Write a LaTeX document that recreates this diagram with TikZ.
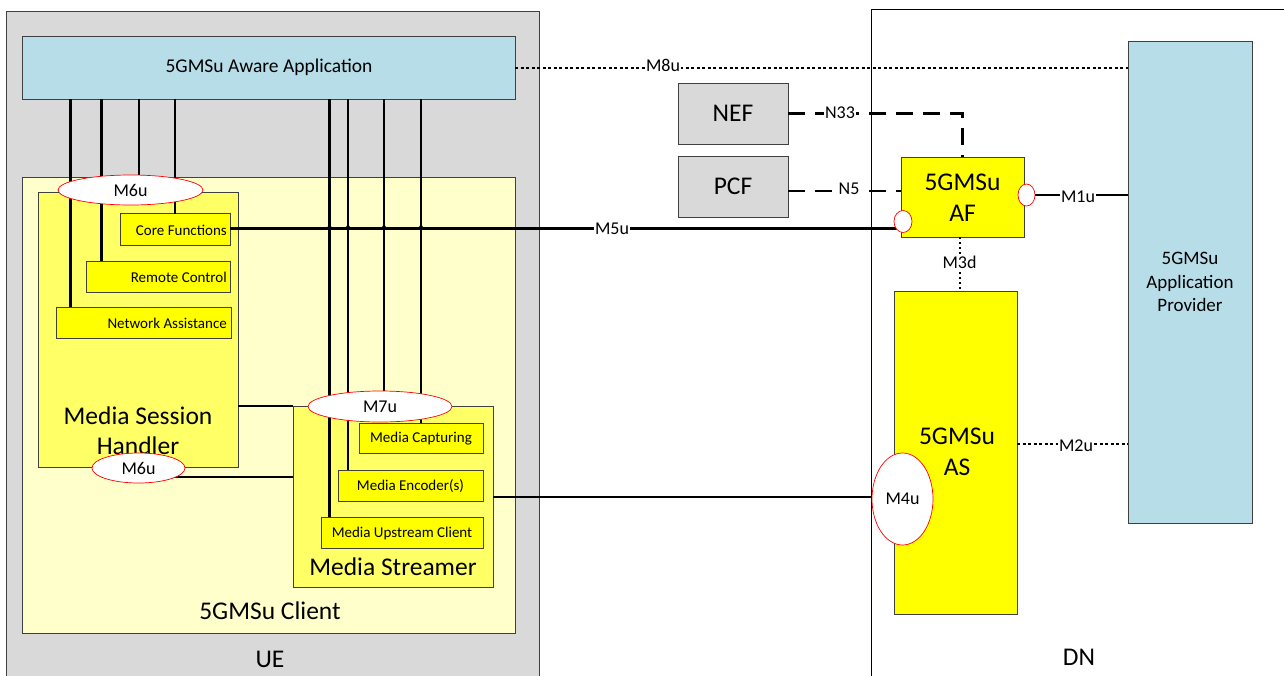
\documentclass[tikz,border=0pt]{standalone}
\usepackage{fontspec}
\setmainfont{Carlito}
\usetikzlibrary{shapes.geometric}
\definecolor{uegray}{HTML}{D9D9D9}
\definecolor{appblue}{HTML}{B7DDE8}
\definecolor{clientyel}{HTML}{FFFFCC}
\definecolor{midyel}{HTML}{FFFF66}
\definecolor{fullyel}{HTML}{FFFF00}
\definecolor{bordgray}{HTML}{404040}
\newcommand\lblsz{\fontsize{18}{21}\selectfont}
\newcommand\bigsz{\fontsize{25.5}{30}\selectfont}
\newcommand\smallsz{\fontsize{15}{17}\selectfont}
\newcommand\appsz{\fontsize{19.5}{23.5}\selectfont}
\newcommand\provsz{\fontsize{19}{23.5}\selectfont}
\tikzset{
 box/.style={draw=bordgray, line width=0.8pt, inner sep=0pt, outer sep=0pt},
 conn/.style={line width=2.2pt},
 dotl/.style={line width=2pt, dash pattern=on 3pt off 2.5pt},
 dotv/.style={line width=2pt, dash pattern=on 2pt off 3pt},
 dashl/.style={line width=2.2pt, dash pattern=on 17pt off 10pt},
 iface/.style={ellipse, draw=red, fill=white, line width=0.7pt, inner sep=0pt, outer sep=0pt, font=\lblsz},
 lbl/.style={fill=white, inner sep=1pt, font=\lblsz},
 big/.style={font=\bigsz, align=center, inner sep=0pt},
 small/.style={font=\smallsz, inner sep=0pt},
}
\begin{document}
\begin{tikzpicture}[x=1pt,y=-1pt]
\useasboundingbox (0,0) rectangle (1284,675);
% containers
\node[box, fill=uegray, minimum width=533pt, minimum height=669pt] (ue) at (272.5,345.5) {};
\node[box, draw=black, fill=white, minimum width=419pt, minimum height=671pt] (dn) at (1080.5,344.5) {};
\node[box, fill=appblue, minimum width=493pt, minimum height=63pt] (app) at (268.5,67.5) {};
\node[font=\appsz] (apptxt) at (269,67) {5GMSu Aware Application};
\node[box, fill=clientyel, minimum width=493pt, minimum height=456pt] (client) at (268.5,405) {};
\node[box, fill=midyel, minimum width=200pt, minimum height=275pt] (msh) at (138,329.5) {};
\node[box, fill=fullyel, minimum width=110pt, minimum height=32pt] (core) at (175,229.5) {};
\node[box, fill=fullyel, minimum width=144pt, minimum height=31pt] (remote) at (158,276.5) {};
\node[box, fill=fullyel, minimum width=175pt, minimum height=31pt] (net) at (143.5,322.5) {};
\node[small, anchor=east] (coretxt) at (227,230) {Core Functions};
\node[small, anchor=east] (remotetxt) at (227,277) {Remote Control};
\node[small, anchor=east] (nettxt) at (227,323) {Network Assistance};
\node[big] (mshtxt) at (138,431) {Media Session\\Handler};
\node[box, fill=midyel, minimum width=200pt, minimum height=181pt] (stream) at (393,496.5) {};
\node[box, fill=fullyel, minimum width=124pt, minimum height=30pt] (mcap) at (421,438) {};
\node[box, fill=fullyel, minimum width=145pt, minimum height=31pt] (menc) at (410.5,485.5) {};
\node[box, fill=fullyel, minimum width=162pt, minimum height=31pt] (mup) at (402,532.5) {};
\node[small] (mcaptxt) at (421,438.5) {Media Capturing};
\node[small] (menctxt) at (410.5,486) {Media Encoder(s)};
\node[small] (muptxt) at (402,533) {Media Upstream Client};
\node[big] (streamtxt) at (393,567) {Media Streamer};
\node[big] (clienttxt) at (270,611) {5GMSu Client};
\node[big] (uetxt) at (270,659) {UE};
\node[big] (dntxt) at (1079,657) {DN};
% network side
\node[box, fill=uegray, minimum width=110pt, minimum height=61pt, font=\bigsz] (nef) at (733,113.5) {NEF};
\node[box, fill=uegray, minimum width=110pt, minimum height=61pt, font=\bigsz] (pcf) at (733,186.5) {PCF};
\node[box, fill=fullyel, minimum width=123pt, minimum height=80pt] (af) at (962.5,197) {};
\node[big] (aftxt) at (962.5,197.5) {5GMSu\\[1pt]AF};
\node[box, fill=fullyel, minimum width=123pt, minimum height=323pt] (as) at (955.5,452.5) {};
\node[big] (astxt) at (957,451.5) {5GMSu\\[1pt]AS};
\node[box, fill=appblue, minimum width=124pt, minimum height=482pt] (prov) at (1190,282) {};
\node[font=\provsz, align=center] (provtxt) at (1190,282) {5GMSu\\Application\\Provider};
% coordinates
\coordinate (x1) at (70.5,0);
\coordinate (x2) at (101.5,0);
\coordinate (x3) at (139,0);
\coordinate (x4) at (175,0);
\coordinate (x5) at (329.5,0);
\coordinate (x6) at (348,0);
\coordinate (x7) at (384,0);
\coordinate (x8) at (421,0);
\coordinate (y5) at (0,228.5);
\coordinate (yb) at (0,477);
\coordinate (y4) at (0,497);
\coordinate (yn5) at (0,191);
\coordinate (y2) at (0,444);
\coordinate (xm3) at (959.5,0);
\coordinate (m6ac) at (130.5,190);
\coordinate (m7c) at (380,406.5);
\coordinate (aflc) at (903,221.5);
\coordinate (afrc) at (1026.5,195);
\coordinate (m4c) at (902.5,499);
\coordinate (m6bc) at (138.5,468);
% connectors from aware application
\draw[conn] (app.south -| x1) -- (net.north -| x1);
\draw[conn] (app.south -| x2) -- (remote.north -| x2);
\draw[conn] (app.south -| x3) -- (m6ac -| x3);
\draw[conn] (app.south -| x4) -- (core.north -| x4);
\draw[conn] (app.south -| x5) -- (mup.north -| x5);
\draw[conn] (app.south -| x6) -- (menc.north -| x6);
\draw[conn] (app.south -| x7) -- (m7c -| x7);
\draw[conn] (app.south -| x8) -- (mcap.north -| x8);
% M5u
\draw[conn] (core.east |- y5) -- (aflc |- y5);
\foreach \xx in {329.5,348,384,421}
  \draw[line width=1.3pt] (\xx-2.5,228.5) -- (\xx,225.5) -- (\xx+2.5,228.5);
\node[lbl] (m5ulbl) at (612,229) {M5u};
% M7u, M6u, M4u lines
\draw[conn] (msh.east |- stream.north west) -- (stream.north west);
\draw[conn] (m6bc |- yb) -- (stream.west |- yb);
\draw[conn] (stream.east |- y4) -- (m4c |- y4);
% M8u
\draw[dotl] (app.east) -- (prov.west |- app.east);
\node[lbl] (m8ulbl) at (663,65) {M8u};
% N33, N5
\draw[dashl] (nef.east) -- (af.north |- nef.east) -- (af.north);
\node[lbl] (n33lbl) at (840,113) {N33};
\draw[dashl] (pcf.east |- yn5) -- (af.west |- yn5);
\node[lbl] (n5lbl) at (849,189) {N5};
% M1u
\draw[conn] (afrc) -- (prov.west |- afrc);
\node[lbl] (m1ulbl) at (1078,197) {M1u};
% M3d
\draw[dotv] (af.south -| xm3) -- (as.north -| xm3);
\node[lbl] (m3dlbl) at (959.5,262) {M3d};
% M2u
\draw[dotl] (as.east |- y2) -- (prov.west |- y2);
\node[lbl] (m2ulbl) at (1076,446) {M2u};
% ellipses
\node[iface, minimum width=145pt, minimum height=30pt] (m6a) at (m6ac) {M6u};
\node[iface, minimum width=93pt, minimum height=30pt] (m6b) at (m6bc) {M6u};
\node[iface, minimum width=144pt, minimum height=31pt] (m7) at (m7c) {M7u};
\node[iface, minimum width=61pt, minimum height=92pt] (m4) at (m4c) {M4u};
\node[iface, minimum width=18pt, minimum height=22pt] (afl) at (aflc) {};
\node[iface, minimum width=17pt, minimum height=22pt] (afr) at (afrc) {};
\end{tikzpicture}
\end{document}
